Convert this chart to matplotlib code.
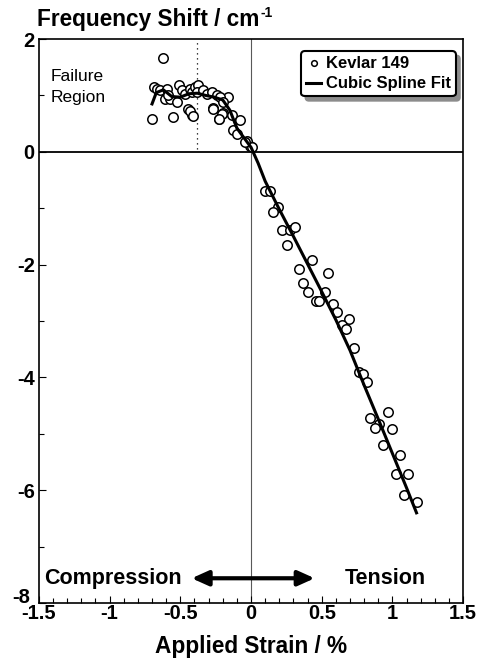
#!/usr/bin/env python3
# -*- coding: utf-8 -*-
"""Raman frequency shift vs applied strain for a Kevlar 149 fibre."""

import matplotlib
matplotlib.use("Agg")
import matplotlib.pyplot as plt
from matplotlib.ticker import MultipleLocator, FuncFormatter

# measured points (strain %, shift cm^-1)
strain = [
    -0.70, -0.625, -0.554, -0.448, -0.415, -0.27, -0.224, -0.196, -0.16, -0.137,
    -0.078, -0.125, -0.10, -0.007, -0.03, 0.005, -0.042,
    -0.686, -0.667, -0.644, -0.597, -0.609, -0.573, -0.585, -0.526, -0.51, -0.49,
    -0.467, -0.43, -0.42, -0.396, -0.373, -0.384, -0.337, -0.31, -0.278, -0.243,
    -0.219, -0.196, -0.43, -0.41, -0.267, -0.207, -0.23,
    0.099, 0.134, 0.193, 0.158, 0.217, 0.276, 0.311, 0.252, 0.43, 0.34,
    0.547, 0.37, 0.40, 0.524, 0.46, 0.483, 0.583, 0.611, 0.696, 0.642,
    0.67, 0.729, 0.76, 0.79, 0.82, 0.965, 0.842, 0.908, 0.878, 0.996,
    0.932, 1.055, 1.024, 1.113, 1.083, 1.173,
]
shift = [
    0.59, 1.67, 0.62, 0.76, 0.66, 0.78, 0.59, 0.69, 0.97, 0.66,
    0.57, 0.38, 0.32, 0.11, 0.20, 0.08, 0.17,
    1.15, 1.12, 1.09, 1.12, 0.94, 0.94, 1.00, 0.88, 1.18, 1.09,
    1.03, 1.12, 1.06, 1.15, 1.18, 1.06, 1.09, 1.03, 1.06, 1.00,
    0.97, 0.88, 0.73, 0.64, 0.76, 0.67, 0.59,
    -0.70, -0.70, -0.98, -1.07, -1.39, -1.39, -1.34, -1.66, -1.91, -2.07,
    -2.14, -2.33, -2.49, -2.49, -2.64, -2.64, -2.70, -2.84, -2.97, -3.07,
    -3.14, -3.47, -3.91, -3.93, -4.08, -4.61, -4.71, -4.83, -4.89, -4.91,
    -5.19, -5.38, -5.72, -5.71, -6.08, -6.21,
]

# cubic spline fit, sampled along the curve
fit_strain = [
    -0.70, -0.67, -0.62, -0.56, -0.50, -0.44, -0.38, -0.32, -0.26, -0.20,
    -0.15, -0.10, -0.05, 0.00, 0.05, 0.10, 0.20, 0.30, 0.40, 0.50,
    0.60, 0.70, 0.80, 0.90, 1.00, 1.10, 1.17,
]
fit_shift = [
    0.85, 1.05, 1.10, 0.98, 0.97, 1.03, 1.04, 1.00, 0.97, 0.92,
    0.74, 0.42, 0.25, 0.08, -0.20, -0.52, -1.02, -1.50, -1.99, -2.48,
    -2.98, -3.52, -4.14, -4.74, -5.35, -5.96, -6.40,
]

failure_strain = -0.38

FONT = ["Liberation Sans", "DejaVu Sans"]
TITLE_SIZE = 16.3
LABEL_SIZE = 15.5
TICK_SIZE = 14.5


def fmt(v, pos=None):
    return f"{v:g}"


def main() -> int:
    plt.rcParams["font.family"] = FONT
    plt.rcParams["font.weight"] = "bold"

    fig = plt.figure(figsize=(4.8, 6.62), dpi=100)
    ax = fig.add_axes([0.081, 0.089, 0.884, 0.852])

    ax.axhline(0, color="black", lw=1.3, zorder=1)
    ax.axvline(0, color="0.35", lw=0.8, zorder=1)
    ax.plot([failure_strain, failure_strain], [0.05, 2], color="black",
            lw=0.9, ls=(0, (1, 3)), zorder=1)

    ax.plot(strain, shift, ls="none", marker="o", ms=6.8, mfc="white",
            mec="black", mew=1.1, label="Kevlar 149", zorder=2)
    ax.plot(fit_strain, fit_shift, color="black", lw=2.2,
            label="Cubic Spline Fit", zorder=3)

    ax.set_xlim(-1.5, 1.5)
    ax.set_ylim(-8, 2)
    ax.xaxis.set_major_locator(MultipleLocator(0.5))
    ax.xaxis.set_minor_locator(MultipleLocator(0.1))
    ax.yaxis.set_major_locator(MultipleLocator(2))
    ax.yaxis.set_minor_locator(MultipleLocator(1))
    ax.tick_params(axis="both", which="both", direction="in", top=False,
                   right=False, labelsize=TICK_SIZE, width=0.8)
    ax.tick_params(which="major", length=5)
    ax.tick_params(axis="x", which="major", pad=1)
    ax.tick_params(axis="y", which="major", pad=3)
    ax.tick_params(which="minor", length=3.5)
    ax.xaxis.set_major_formatter(FuncFormatter(fmt))
    # bottom y label is nudged up and left, clear of the x tick labels
    ax.yaxis.set_major_formatter(FuncFormatter(lambda v, p: "" if v == -8 else fmt(v)))
    ax.annotate("-8", xy=(0, 0), xycoords="axes fraction", xytext=(-6, 4),
                textcoords="offset points", ha="right", va="center",
                fontsize=TICK_SIZE, fontweight="bold")
    for s in ax.spines.values():
        s.set_linewidth(1.2)

    ax.set_xlabel("Applied Strain / %", fontsize=TITLE_SIZE, fontweight="bold",
                  labelpad=8)
    title = fig.text(0.077, 0.961, "Frequency Shift / cm", fontsize=TITLE_SIZE,
                     fontweight="bold", ha="left", va="baseline")
    renderer = fig.canvas.get_renderer()
    bb = title.get_window_extent(renderer).transformed(fig.transFigure.inverted())
    fig.text(bb.x1 + 0.002, 0.975, "-1", fontsize=10, fontweight="bold",
             ha="left", va="baseline")

    ax.text(-1.42, 1.15, "Failure\nRegion", fontsize=12.5, fontweight="normal",
            ha="left", va="center", linespacing=1.45)

    ax.text(-1.46, -7.56, "Compression", fontsize=LABEL_SIZE, fontweight="bold",
            ha="left", va="center")
    ax.text(1.235, -7.56, "Tension", fontsize=LABEL_SIZE, fontweight="bold",
            ha="right", va="center")
    ax.annotate("", xy=(-0.42, -7.56), xytext=(0.45, -7.56),
                arrowprops=dict(arrowstyle="<|-|>,head_length=1.0,head_width=0.45",
                                lw=3, color="black", shrinkA=0, shrinkB=0))

    leg = ax.legend(loc="upper right", bbox_to_anchor=(0.982, 0.978),
                    borderaxespad=0, fancybox=True,
                    shadow={"color": "0.55", "alpha": 1.0, "ox": 3, "oy": -3},
                    prop={"weight": "bold", "size": 12}, handlelength=0.9,
                    handletextpad=0.25, borderpad=0.3, labelspacing=0.3,
                    markerscale=0.6, framealpha=1)
    frame = leg.get_frame()
    frame.set_edgecolor("black")
    frame.set_linewidth(1.5)

    fig.savefig("out.png", dpi=100)
    plt.close(fig)
    return 0


if __name__ == "__main__":
    raise SystemExit(main())
